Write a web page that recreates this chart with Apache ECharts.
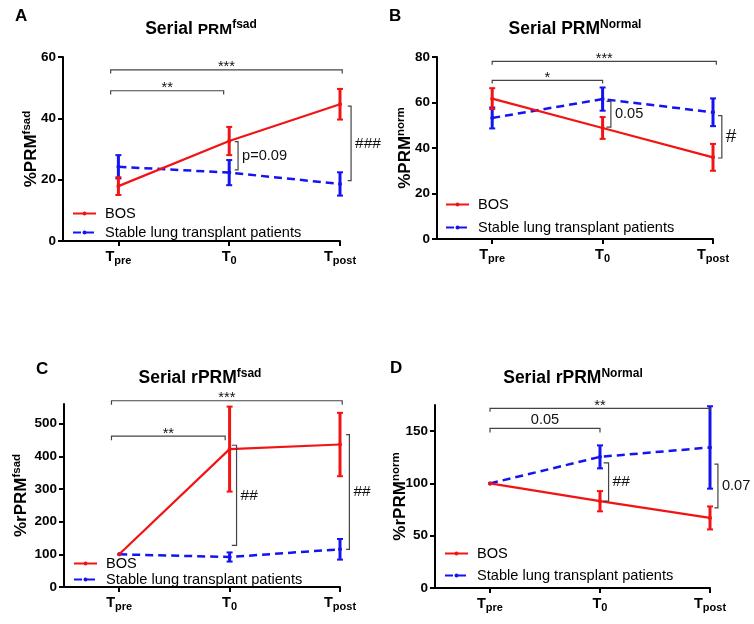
<!DOCTYPE html>
<html>
<head>
<meta charset="utf-8">
<title>Serial PRM</title>
<script src="https://cdn.jsdelivr.net/npm/echarts@6/dist/echarts.min.js"></script>
<style>
  html, body { margin: 0; padding: 0; background: #fff; }
  #chart { width: 754px; height: 624px; }
</style>
</head>
<body>
<div id="chart"></div>
<script>
const xLabels = ['T{sub|pre}', 'T{sub|0}', 'T{sub|post}'];
const timePoints = [0, 1, 2];
const seriesNames = ['BOS', 'Stable lung transplant patients'];

// A - PRM fsad
const bosA = [17.9, 32.6, 44.6];
const bosAErr = [2.9, 4.6, 5.0];
const stableA = [24.2, 22.3, 18.6];
const stableAErr = [3.8, 4.1, 3.8];
const ticksA = [0, 20, 40, 60];

// B - PRM normal
const bosB = [61.7, 48.8, 35.9];
const bosBErr = [4.6, 4.8, 5.9];
const stableB = [53.2, 61.5, 55.7];
const stableBErr = [4.6, 5.1, 6.1];
const ticksB = [0, 20, 40, 60, 80];

// C - rPRM fsad
const bosC = [100, 422, 436];
const bosCErr = [0, 130, 97];
const stableC = [100, 91.8, 115.4];
const stableCErr = [0, 14, 31.6];
const ticksC = [0, 100, 200, 300, 400, 500];

// D - rPRM normal
const bosD = [100, 83.0, 67.0];
const bosDErr = [0, 9.7, 11];
const stableD = [100, 125.4, 134.4];
const stableDErr = [0, 11, 39.4];
const ticksD = [0, 50, 100, 150];

// brackets: [from, to, y, yEnd, label]  /  [x, yTop, yBottom, xEnd, label]
const hBracketsA = [[-0.07, 2.02, 55.8, 54.6, '***'], [-0.07, 0.95, 49.0, 47.8, '**']];
const vBracketsA = [[1.08, 32.4, 23.2, 1.05, 'p=0.09'], [2.10, 44.0, 19.7, 2.07, '###']];
const hBracketsB = [[0, 2.03, 78.1, 76.6, '***'], [0, 1.0, 69.7, 68.3, '*']];
const vBracketsB = [[1.075, 60.5, 49.2, 1.035, '0.05'], [2.08, 54.2, 35.6, 2.045, '#']];
const hBracketsC = [[-0.07, 2.02, 570, 558, '***'], [-0.07, 0.96, 462, 449, '**']];
const vBracketsC = [[1.063, 433.7, 127.6, 1.02, '##'], [2.085, 466.5, 115.4, 2.055, '##']];
const hBracketsD = [[0, 2.0, 171.8, 168.5, '**'], [0, 1.0, 152.6, 148.8, '0.05']];
const vBracketsD = [[1.078, 119.7, 83, 1.033, '##'], [2.072, 118.4, 76.6, 2.04, '0.07']];

const font = '"Liberation Sans", Arial, sans-serif';
const RED = '#f21414';
const BLUE = '#1414f0';

const panels = [
  { letter: 'A', title: 'Serial {m|PRM}{sup|fsad}', yName: '%PRM{sup|fsad}', max: 60, ticks: ticksA,
    bos: bosA, bosErr: bosAErr, stable: stableA, stableErr: stableAErr, hb: hBracketsA, vb: vBracketsA,
    grid: { left: 63, top: 57, width: 277, height: 184 }, nameGap: 22,
    titleX: 201, titleY: 19, letterX: 15, letterY: 8, legendX: 72, legendY: 206, legendGap: 4 },
  { letter: 'B', title: 'Serial PRM{sup|Normal}', yName: '%PRM{sup|norm}', max: 80, ticks: ticksB,
    bos: bosB, bosErr: bosBErr, stable: stableB, stableErr: stableBErr, hb: hBracketsB, vb: vBracketsB,
    grid: { left: 437, top: 57, width: 276, height: 182 }, nameGap: 22,
    titleX: 575, titleY: 19, letterX: 389, letterY: 8, legendX: 445, legendY: 197, legendGap: 8 },
  { letter: 'C', title: 'Serial rPRM{sup|fsad}', yName: '%rPRM{sup|fsad}', max: 560, ticks: ticksC,
    bos: bosC, bosErr: bosCErr, stable: stableC, stableErr: stableCErr, hb: hBracketsC, vb: vBracketsC,
    grid: { left: 64, top: 404, width: 276, height: 183 }, nameGap: 33,
    titleX: 200, titleY: 368, letterX: 36, letterY: 361, legendX: 73, legendY: 556, legendGap: 1 },
  { letter: 'D', title: 'Serial rPRM{sup|Normal}', yName: '%rPRM{sup|norm}', max: 175, ticks: ticksD,
    bos: bosD, bosErr: bosDErr, stable: stableD, stableErr: stableDErr, hb: hBracketsD, vb: vBracketsD,
    grid: { left: 435, top: 405, width: 275, height: 183 }, nameGap: 25,
    titleX: 573, titleY: 368, letterX: 390, letterY: 360, legendX: 444, legendY: 546, legendGap: 7 }
];

const axisLineStyle = { color: '#000', width: 2 };

function errorBar(vals, errs) {
  return function (params, api) {
    const i = params.dataIndex;
    if (!errs[i]) return null;
    const top = api.coord([timePoints[i], vals[i] + errs[i]]);
    const bot = api.coord([timePoints[i], vals[i] - errs[i]]);
    const color = api.visual('color');
    const cap = 3;
    return {
      type: 'group',
      children: [
        { type: 'line', shape: { x1: top[0], y1: top[1], x2: bot[0], y2: bot[1] }, style: { stroke: color, lineWidth: 3 } },
        { type: 'line', shape: { x1: top[0] - cap, y1: top[1], x2: top[0] + cap, y2: top[1] }, style: { stroke: color, lineWidth: 2 } },
        { type: 'line', shape: { x1: bot[0] - cap, y1: bot[1], x2: bot[0] + cap, y2: bot[1] }, style: { stroke: color, lineWidth: 2 } }
      ]
    };
  };
}

function hBracket(list) {
  return function (params, api) {
    const b = list[params.dataIndex];
    const a1 = api.coord([b[0], b[3]]);
    const a2 = api.coord([b[0], b[2]]);
    const b2 = api.coord([b[1], b[2]]);
    const b1 = api.coord([b[1], b[3]]);
    const stars = /^\*+$/.test(b[4]);
    return {
      type: 'group',
      children: [
        { type: 'polyline', shape: { points: [a1, a2, b2, b1] }, style: { stroke: '#444', lineWidth: 1.2, fill: null } },
        { type: 'text', x: (a2[0] + b2[0]) / 2, y: a2[1] + (stars ? 5 : -1),
          style: { text: b[4], fontSize: 14.6, fontFamily: font, fill: '#111', align: 'center', verticalAlign: 'bottom' } }
      ]
    };
  };
}

function vBracket(list) {
  return function (params, api) {
    const b = list[params.dataIndex];
    const t1 = api.coord([b[3], b[1]]);
    const t2 = api.coord([b[0], b[1]]);
    const u2 = api.coord([b[0], b[2]]);
    const u1 = api.coord([b[3], b[2]]);
    const hash = /^#+$/.test(b[4]);
    // a lone '#' is set larger in the original figure
    const size = hash ? (b[4].length === 1 ? 19 : 15.5) : 14.6;
    return {
      type: 'group',
      children: [
        { type: 'polyline', shape: { points: [t1, t2, u2, u1] }, style: { stroke: '#444', lineWidth: 1.2, fill: null } },
        { type: 'text', x: t2[0] + 4, y: (t2[1] + u2[1]) / 2,
          style: { text: b[4], fontSize: size, fontFamily: font, fill: '#111', align: 'left', verticalAlign: 'middle' } }
      ]
    };
  };
}

const option = {
  backgroundColor: '#fff',
  animation: false,
  title: [],
  legend: [],
  grid: [],
  xAxis: [],
  yAxis: [],
  series: []
};

panels.forEach(function (p, i) {
  option.title.push({
    text: p.letter, left: p.letterX, top: p.letterY, padding: 0,
    textStyle: { fontFamily: font, fontSize: 17, fontWeight: 'bold', color: '#000' }
  });
  option.title.push({
    text: p.title, left: p.titleX, top: p.titleY, padding: 0, textAlign: 'center',
    textStyle: {
      fontFamily: font, fontSize: 17.5, fontWeight: 'bold', color: '#000',
      rich: {
        m: { fontFamily: font, fontSize: 15.5, fontWeight: 'bold', color: '#000' },
        sup: { fontFamily: font, fontSize: 12, fontWeight: 'bold', color: '#000', padding: [0, 0, 9, 0] }
      }
    }
  });
  option.legend.push({
    orient: 'vertical', left: p.legendX, top: p.legendY, padding: 0,
    itemGap: p.legendGap, itemWidth: 23, itemHeight: 5, selectedMode: false,
    data: seriesNames,
    textStyle: { fontFamily: font, fontSize: 14.6, lineHeight: 14, color: '#000', padding: [0, 0, 0, 4] }
  });
  option.grid.push(Object.assign({ containLabel: false }, p.grid));
  option.xAxis.push({
    type: 'value', gridIndex: i, min: -0.5, max: 2,
    axisLine: { onZero: false, lineStyle: axisLineStyle },
    axisTick: { customValues: timePoints, length: 5, lineStyle: axisLineStyle },
    axisLabel: {
      customValues: timePoints, margin: 7,
      formatter: function (v) { return xLabels[Math.round(v)]; },
      fontFamily: font, fontSize: 14.5, fontWeight: 'bold', color: '#000',
      rich: { sub: { fontFamily: font, fontSize: 11, fontWeight: 'bold', color: '#000', padding: [7, 0, 0, 0] } }
    },
    splitLine: { show: false }
  });
  option.yAxis.push({
    type: 'value', gridIndex: i, min: 0, max: p.max,
    axisLine: { show: true, onZero: false, lineStyle: axisLineStyle },
    axisTick: { show: true, customValues: p.ticks, length: 5, lineStyle: axisLineStyle },
    axisLabel: { customValues: p.ticks, margin: 7, fontFamily: font, fontSize: 13.5, fontWeight: 'bold', color: '#000' },
    splitLine: { show: false },
    name: p.yName, nameLocation: 'middle', nameRotate: 90, nameGap: p.nameGap, nameMoveOverlap: false,
    nameTextStyle: {
      fontFamily: font, fontSize: 17, fontWeight: 'bold', color: '#000',
      rich: { sup: { fontFamily: font, fontSize: 11.5, fontWeight: 'bold', color: '#000', padding: [0, 0, 8, 0] } }
    }
  });

  const pairs = function (vals) { return vals.map(function (v, k) { return [timePoints[k], v]; }); };

  option.series.push(
    {
      name: seriesNames[1], type: 'line', xAxisIndex: i, yAxisIndex: i,
      data: pairs(p.stable), symbol: 'circle', symbolSize: 4,
      itemStyle: { color: BLUE }, lineStyle: { color: BLUE, width: 2.5, type: [8, 5] }, z: 3
    },
    {
      name: 'stable-err', type: 'custom', xAxisIndex: i, yAxisIndex: i,
      data: pairs(p.stable), renderItem: errorBar(p.stable, p.stableErr),
      itemStyle: { color: BLUE }, z: 4
    },
    {
      name: seriesNames[0], type: 'line', xAxisIndex: i, yAxisIndex: i,
      data: pairs(p.bos), symbol: 'circle', symbolSize: 4,
      itemStyle: { color: RED }, lineStyle: { color: RED, width: 2.2 }, z: 5
    },
    {
      name: 'bos-err', type: 'custom', xAxisIndex: i, yAxisIndex: i,
      data: pairs(p.bos), renderItem: errorBar(p.bos, p.bosErr),
      itemStyle: { color: RED }, z: 6
    },
    {
      name: 'h-brackets', type: 'custom', xAxisIndex: i, yAxisIndex: i,
      data: p.hb.map(function (b) { return [b[0], b[2]]; }), renderItem: hBracket(p.hb), z: 7
    },
    {
      name: 'v-brackets', type: 'custom', xAxisIndex: i, yAxisIndex: i,
      data: p.vb.map(function (b) { return [b[0], b[1]]; }), renderItem: vBracket(p.vb), z: 7
    }
  );
});

const chart = echarts.init(document.getElementById('chart'), null, { renderer: 'canvas' });
chart.setOption(option);
</script>
</body>
</html>
